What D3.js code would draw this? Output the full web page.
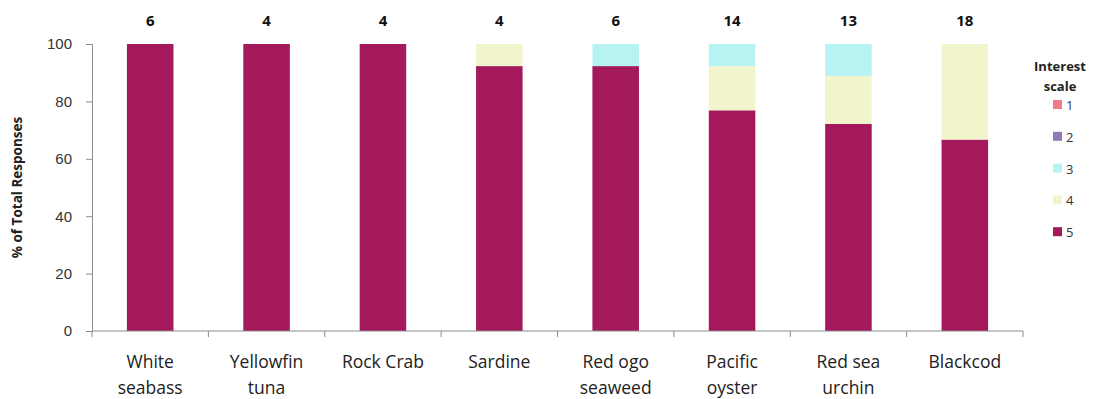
<!DOCTYPE html>
<html>
<head>
<meta charset="utf-8">
<script src="https://cdn.jsdelivr.net/npm/d3@7/dist/d3.min.js"></script>
<style>
  html, body { margin: 0; padding: 0; background: #fff; }
  svg { display: block; font-family: "Open Sans", "Lato", sans-serif; }
</style>
</head>
<body>
<svg id="chart" width="1094" height="399"></svg>
<script>
// Species and the total number of responses for each
const species = ["White\nseabass", "Yellowfin\ntuna", "Rock Crab", "Sardine", "Red ogo\nseaweed", "Pacific\noyster", "Red sea\nurchin", "Blackcod"];
const responseCounts = [6, 4, 4, 4, 6, 14, 13, 18];

// Interest scale levels, stacked bottom-up as 5, 4, 3, 2, 1
const scaleLevels = ["1", "2", "3", "4", "5"];
const levelColors = ["#f07a86", "#8f7ab3", "#b8f3f3", "#f2f5cc", "#a3195b"];

// % of total responses at each interest level
const level1 = [0, 0, 0, 0, 0, 0, 0, 0];
const level2 = [0, 0, 0, 0, 0, 0, 0, 0];
const level3 = [0, 0, 0, 0, 7.7, 7.7, 11.1, 0];
const level4 = [0, 0, 0, 7.7, 0, 15.4, 16.7, 33.3];
const level5 = [100, 100, 100, 92.3, 92.3, 76.9, 72.2, 66.7];

const yTicks = [0, 20, 40, 60, 80, 100];

const svg = d3.select("#chart");
const margin = { left: 92, right: 71, top: 44, bottom: 68 };
const W = 1094, H = 399;

const x = d3.scaleBand().domain(species).range([margin.left, W - margin.right]).paddingInner(0.6).paddingOuter(0.3);
const xAxisScale = d3.scaleBand().domain(species).range([margin.left, W - margin.right]);
const y = d3.scaleLinear().domain([0, 100]).range([H - margin.bottom, margin.top]);

const rows = species.map((s, i) => ({ species: s, "5": level5[i], "4": level4[i], "3": level3[i], "2": level2[i], "1": level1[i] }));
const stackOrder = ["5", "4", "3", "2", "1"];
const stacked = d3.stack().keys(stackOrder)(rows);
const colorOf = d3.scaleOrdinal().domain(scaleLevels).range(levelColors);

// Stacked bars
svg.append("g").selectAll("g")
  .data(stacked)
  .join("g")
  .attr("fill", d => colorOf(d.key))
  .selectAll("rect")
  .data(d => d.map(v => ({ v, key: d.key })))
  .join("rect")
  .attr("x", d => x(d.v.data.species))
  .attr("width", x.bandwidth())
  .attr("y", d => y(d.v[1]))
  .attr("height", d => y(d.v[0]) - y(d.v[1]));

// Y axis
const yAxis = svg.append("g")
  .attr("transform", `translate(${margin.left},0)`)
  .call(d3.axisLeft(y).tickValues(yTicks).tickSize(6).tickPadding(14));
yAxis.select(".domain").attr("stroke", "#8c8c8c");
yAxis.selectAll(".tick line").attr("stroke", "#8c8c8c");
yAxis.selectAll(".tick text").attr("font-size", 15).attr("fill", "#333");

// X axis: baseline plus ticks at band edges
const xg = svg.append("g").attr("transform", `translate(0,${y(0)})`);
xg.append("line").attr("x1", margin.left).attr("x2", W - margin.right).attr("stroke", "#8c8c8c");
const edges = species.map(s => xAxisScale(s)).concat([W - margin.right]);
xg.selectAll("line.edge").data(edges).join("line").attr("class", "edge")
  .attr("x1", d => d).attr("x2", d => d).attr("y1", 0).attr("y2", 6).attr("stroke", "#8c8c8c");

// Category labels
xg.selectAll("text.cat").data(species).join("text").attr("class", "cat")
  .attr("text-anchor", "middle")
  .attr("font-size", 17.5)
  .attr("fill", "#222")
  .attr("transform", d => `translate(${xAxisScale(d) + xAxisScale.bandwidth() / 2},37)`)
  .each(function(d) {
    const lines = d.split("\n");
    d3.select(this).selectAll("tspan").data(lines).join("tspan")
      .attr("x", 0).attr("dy", (l, i) => i === 0 ? 0 : 26).text(l => l);
  });

// Response counts above the bars
svg.append("g").selectAll("text").data(species).join("text")
  .attr("x", d => xAxisScale(d) + xAxisScale.bandwidth() / 2)
  .attr("y", 26)
  .attr("text-anchor", "middle")
  .attr("font-size", 15)
  .attr("font-weight", "bold")
  .attr("fill", "#111")
  .text((d, i) => responseCounts[i]);

// Y axis title
svg.append("text")
  .attr("transform", `translate(22,${(y(0) + y(100)) / 2}) rotate(-90)`)
  .attr("text-anchor", "middle")
  .attr("font-size", 13.5)
  .attr("font-weight", "bold")
  .attr("fill", "#222")
  .text("% of Total Responses");

// Legend
const legend = svg.append("g").attr("transform", "translate(1060,0)");
legend.append("text").attr("text-anchor", "middle").attr("font-size", 13).attr("font-weight", "bold").attr("fill", "#222")
  .selectAll("tspan").data(["Interest", "scale"]).join("tspan")
  .attr("x", 0).attr("y", (d, i) => 71 + i * 20).text(d => d);
const items = legend.selectAll("g.item").data(scaleLevels).join("g").attr("class", "item")
  .attr("transform", (d, i) => `translate(-2,${105 + i * 31.8})`);
items.append("rect").attr("x", -5).attr("y", -5).attr("width", 9).attr("height", 9).attr("fill", d => colorOf(d));
items.append("text").attr("x", 8).attr("y", 5).attr("font-size", 13).attr("fill", "#333").text(d => d);
</script>
</body>
</html>
